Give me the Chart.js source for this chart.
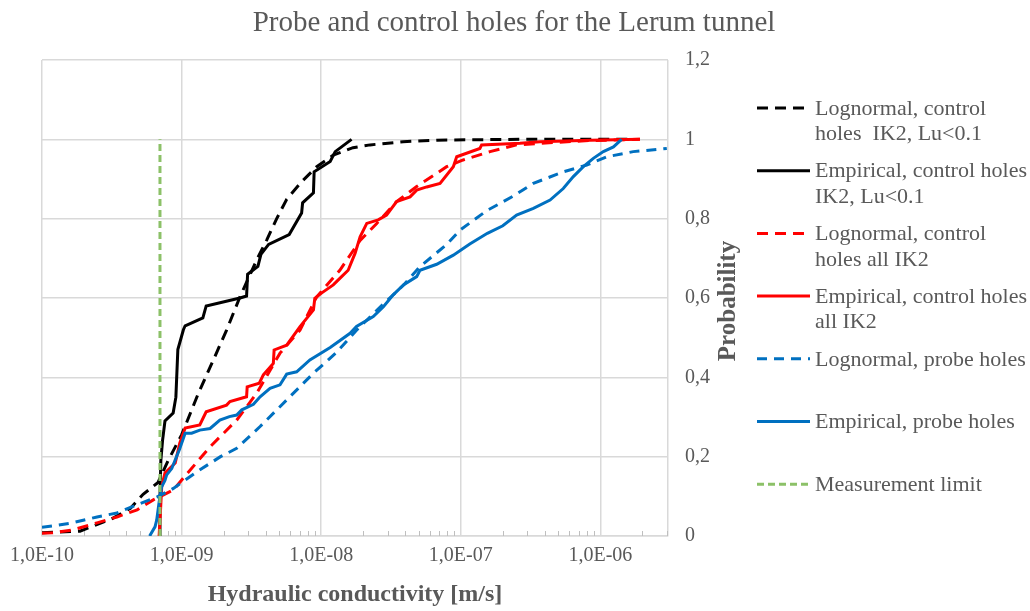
<!DOCTYPE html>
<html>
<head>
<meta charset="utf-8">
<script src="https://cdn.jsdelivr.net/npm/chart.js@4/dist/chart.umd.min.js"></script>
<style>
  body { margin: 0; background: #fff; }
  #wrap { width: 1030px; height: 611px; }
</style>
</head>
<body>
<div id="wrap"><canvas id="myChart" width="1030" height="611"></canvas></div>
<script>
// values (K in m/s, P = probability)
const lognCtrlLuK = [1.0e-10, 1.87e-10, 3.23e-10, 4.3e-10, 5.3e-10, 6.78e-10, 8.0e-10, 1.0e-9, 1.32e-9, 1.69e-9, 2.1e-9, 2.62e-9, 3.45e-9, 4.07e-9, 4.8e-9, 5.66e-9, 7.24e-9, 9.29e-9, 1.22e-8, 1.69e-8, 2.24e-8, 3.86e-8, 6.72e-8, 2.66e-7, 1.7e-6];
const lognCtrlLuP = [0.008, 0.012, 0.045, 0.07, 0.105, 0.135, 0.19, 0.255, 0.36, 0.444, 0.519, 0.603, 0.696, 0.746, 0.8, 0.849, 0.893, 0.931, 0.96, 0.979, 0.986, 0.994, 0.998, 1.0, 1.0];

const empCtrlLuK = [6.9e-10, 7.0e-10, 7.1e-10, 7.3e-10, 7.6e-10, 8.7e-10, 9.1e-10, 9.4e-10, 1.03e-9, 1.06e-9, 1.42e-9, 1.5e-9, 2.62e-9, 2.92e-9, 2.97e-9, 3.52e-9, 3.7e-9, 4.2e-9, 5.9e-9, 7.24e-9, 7.36e-9, 8.8e-9, 8.9e-9, 1.16e-8, 1.26e-8, 1.65e-8];
const empCtrlLuP = [0, 0.10, 0.19, 0.24, 0.29, 0.31, 0.35, 0.47, 0.52, 0.53, 0.55, 0.58, 0.60, 0.605, 0.66, 0.68, 0.71, 0.735, 0.76, 0.814, 0.84, 0.865, 0.918, 0.944, 0.969, 1.0];

const lognCtrlAllK = [1.0e-10, 1.18e-10, 1.64e-10, 2.48e-10, 3.44e-10, 4.8e-10, 6.27e-10, 8.73e-10, 1.1e-9, 1.6e-9, 2.48e-9, 3.45e-9, 5.07e-9, 7.05e-9, 9.29e-9, 1.36e-8, 1.9e-8, 2.5e-8, 3.47e-8, 4.83e-8, 7.92e-8, 1.04e-7, 1.62e-7, 2.51e-7, 3.69e-7, 8.43e-7, 1.92e-6];
const lognCtrlAllP = [0.007, 0.008, 0.015, 0.033, 0.048, 0.066, 0.091, 0.116, 0.158, 0.225, 0.292, 0.36, 0.461, 0.519, 0.603, 0.67, 0.745, 0.788, 0.843, 0.881, 0.931, 0.948, 0.969, 0.986, 0.99, 0.997, 1.0];

const empCtrlAllK = [6.9e-10, 7.1e-10, 7.2e-10, 7.6e-10, 9.0e-10, 9.7e-10, 1.06e-9, 1.35e-9, 1.5e-9, 2.1e-9, 2.22e-9, 2.92e-9, 2.95e-9, 3.6e-9, 3.85e-9, 4.54e-9, 4.6e-9, 5.66e-9, 7.05e-9, 8.8e-9, 9.0e-9, 1.01e-8, 1.22e-8, 1.4e-8, 1.56e-8, 1.75e-8, 1.9e-8, 2.12e-8, 2.56e-8, 2.94e-8, 3.47e-8, 4.33e-8, 4.83e-8, 5.7e-8, 7.1e-8, 8.84e-8, 9.35e-8, 1.37e-7, 1.41e-7, 2.66e-7, 3.69e-7, 8.43e-7, 1.92e-6];
const empCtrlAllP = [0, 0.08, 0.124, 0.159, 0.184, 0.234, 0.272, 0.28, 0.313, 0.33, 0.339, 0.351, 0.376, 0.385, 0.406, 0.435, 0.469, 0.481, 0.528, 0.57, 0.599, 0.613, 0.633, 0.654, 0.67, 0.713, 0.754, 0.788, 0.797, 0.809, 0.843, 0.855, 0.872, 0.88, 0.889, 0.931, 0.956, 0.977, 0.986, 0.99, 0.994, 0.998, 1.0];

const lognProbeK = [1.0e-10, 1.18e-10, 1.64e-10, 2.48e-10, 3.44e-10, 4.8e-10, 6.64e-10, 8.73e-10, 1.3e-9, 1.9e-9, 2.48e-9, 3.65e-9, 5.66e-9, 8.77e-9, 1.29e-8, 1.79e-8, 2.79e-8, 3.88e-8, 5.1e-8, 7.92e-8, 9.86e-8, 1.53e-7, 2.38e-7, 3.31e-7, 5.42e-7, 7.97e-7, 1.11e-6, 1.72e-6, 2.99e-6];
const lognProbeP = [0.022, 0.025, 0.033, 0.048, 0.058, 0.079, 0.098, 0.12, 0.163, 0.2, 0.221, 0.276, 0.343, 0.41, 0.463, 0.519, 0.585, 0.632, 0.679, 0.735, 0.771, 0.82, 0.857, 0.889, 0.918, 0.935, 0.956, 0.969, 0.977];

const empProbeK = [5.9e-10, 6.45e-10, 6.63e-10, 6.9e-10, 7.2e-10, 7.6e-10, 7.82e-10, 8.5e-10, 9.2e-10, 9.7e-10, 1.06e-9, 1.18e-9, 1.35e-9, 1.6e-9, 1.88e-9, 2.2e-9, 2.48e-9, 2.7e-9, 3.27e-9, 3.65e-9, 4.3e-9, 5.07e-9, 5.66e-9, 6.67e-9, 8.3e-9, 1.16e-8, 1.61e-8, 1.79e-8, 2.36e-8, 2.79e-8, 3.28e-8, 3.88e-8, 4.83e-8, 5.1e-8, 6.72e-8, 8.84e-8, 1.16e-7, 1.55e-7, 2.0e-7, 2.51e-7, 3.31e-7, 4.36e-7, 5.42e-7, 6.4e-7, 7.55e-7, 8.9e-7, 1.05e-6, 1.24e-6, 1.42e-6];
const empProbeP = [0, 0.023, 0.04, 0.085, 0.124, 0.14, 0.154, 0.17, 0.2, 0.22, 0.259, 0.259, 0.267, 0.271, 0.292, 0.301, 0.305, 0.318, 0.332, 0.351, 0.372, 0.381, 0.408, 0.414, 0.444, 0.475, 0.511, 0.528, 0.553, 0.578, 0.608, 0.633, 0.654, 0.67, 0.685, 0.708, 0.736, 0.763, 0.782, 0.809, 0.826, 0.847, 0.876, 0.906, 0.931, 0.952, 0.969, 0.981, 1.0];

const limitK = [7.0e-10, 7.0e-10];
const limitP = [0, 1];

const xMin = 1e-10;
const xMax = 3.05e-6;
const xDecades = [1e-10, 1e-9, 1e-8, 1e-7, 1e-6];
const xTickLabels = ["1,0E-10", "1,0E-09", "1,0E-08", "1,0E-07", "1,0E-06"];
const yTickLabels = ["0", "0,2", "0,4", "0,6", "0,8", "1", "1,2"];

const textColor = "#595959";
const gridColor = "#d9d9d9";
const serif = "'Liberation Serif', 'Times New Roman', serif";

function pts(xs, ys) {
  return xs.map((x, i) => ({ x: x, y: ys[i] }));
}

function decadeIndex(v) {
  return xDecades.findIndex((d) => Math.abs(v / d - 1) < 1e-6);
}

const series = [
  { label: ["Lognormal, control", "holes  IK2, Lu<0.1"], data: pts(lognCtrlLuK, lognCtrlLuP), color: "#000000", dash: [11, 7] },
  { label: ["Empirical, control holes", "IK2, Lu<0.1"], data: pts(empCtrlLuK, empCtrlLuP), color: "#000000", dash: [] },
  { label: ["Lognormal, control", "holes all IK2"], data: pts(lognCtrlAllK, lognCtrlAllP), color: "#ff0000", dash: [11, 7] },
  { label: ["Empirical, control holes", "all IK2"], data: pts(empCtrlAllK, empCtrlAllP), color: "#ff0000", dash: [] },
  { label: ["Lognormal, probe holes"], data: pts(lognProbeK, lognProbeP), color: "#0070c0", dash: [10, 7] },
  { label: ["Empirical, probe holes"], data: pts(empProbeK, empProbeP), color: "#0070c0", dash: [] },
  { label: ["Measurement limit"], data: pts(limitK, limitP), color: "#8cc168", dash: [7, 4] },
];

// title, side legend (two-line labels like Excel) and y axis title
const sideLegend = {
  id: "sideLegend",
  afterDraw(chart) {
    const ctx = chart.ctx;
    const x0 = 757, x1 = 810, tx = 815, y0 = 108, step = 62.7, lh = 25.5;
    ctx.save();
    ctx.fillStyle = textColor;
    ctx.textBaseline = "middle";

    ctx.textAlign = "center";
    ctx.font = "29px " + serif;
    ctx.fillText("Probe and control holes for the Lerum tunnel", 514, 23);

    ctx.textAlign = "left";
    ctx.font = "22px " + serif;
    chart.data.datasets.forEach((ds, i) => {
      const y = y0 + i * step;
      ctx.beginPath();
      ctx.strokeStyle = ds.borderColor;
      ctx.lineWidth = ds.borderWidth;
      ctx.setLineDash(ds.borderDash || []);
      ctx.moveTo(x0, y);
      ctx.lineTo(x1, y);
      ctx.stroke();
      ds.label.forEach((line, j) => ctx.fillText(line, tx, y + 1 + j * lh));
    });

    const a = chart.chartArea;
    ctx.translate(729, (a.top + a.bottom) / 2 + 3);
    ctx.rotate(-Math.PI / 2);
    ctx.textAlign = "center";
    ctx.font = "bold 25px " + serif;
    ctx.fillText("Probability", 0, 0);
    ctx.restore();
  },
};

// small minor tick marks inside the plot along the x axis
const minorTicks = {
  id: "minorTicks",
  beforeDatasetsDraw(chart) {
    const sx = chart.scales.x;
    const bottom = chart.chartArea.bottom;
    const ctx = chart.ctx;
    ctx.save();
    ctx.strokeStyle = "#bfbfbf";
    ctx.lineWidth = 1;
    sx.ticks.forEach((t) => {
      if (decadeIndex(t.value) >= 0 || t.value >= xMax * 0.999) return;
      const px = Math.round(sx.getPixelForValue(t.value)) + 0.5;
      ctx.beginPath();
      ctx.moveTo(px, bottom);
      ctx.lineTo(px, bottom - 5);
      ctx.stroke();
    });
    ctx.restore();
  },
};

const cfg = {
  type: "line",
  data: {
    datasets: series.map((s, i) => ({
      label: s.label,
      data: s.data,
      borderColor: s.color,
      backgroundColor: s.color,
      borderDash: s.dash,
      borderWidth: 3,
      pointRadius: 0,
      tension: 0,
      fill: false,
      order: 7 - i,
    })),
  },
  options: {
    responsive: false,
    animation: false,
    devicePixelRatio: 1,
    layout: { padding: { left: 42, right: 0, top: 60, bottom: 0 } },
    plugins: {
      legend: { display: false },
      tooltip: { enabled: false },
      title: { display: false },
    },
    scales: {
      x: {
        type: "logarithmic",
        position: "bottom",
        min: xMin,
        max: xMax,
        afterBuildTicks(scale) {
          scale.ticks = scale.ticks.filter((t) => {
            if (t.value >= xMax * 0.999) return true;
            const m = t.value / Math.pow(10, Math.floor(Math.log10(t.value) + 1e-9));
            return Math.abs(m - Math.round(m)) < 1e-6;
          });
        },
        afterFit(scale) {
          scale.height = 75;
        },
        ticks: {
          autoSkip: false,
          maxRotation: 0,
          padding: 8,
          color: textColor,
          font: { family: serif, size: 20 },
          callback(value) {
            const k = decadeIndex(value);
            return k >= 0 ? xTickLabels[k] : "";
          },
        },
        grid: {
          drawTicks: false,
          lineWidth: 1.5,
          color(c) {
            if (!c.tick) return "rgba(0,0,0,0)";
            return decadeIndex(c.tick.value) >= 0 || c.tick.value >= xMax * 0.999 ? gridColor : "rgba(0,0,0,0)";
          },
        },
        border: { color: gridColor, width: 1.5 },
        title: {
          display: true,
          text: "Hydraulic conductivity [m/s]",
          color: textColor,
          font: { family: serif, size: 24, weight: "bold", lineHeight: 1.2 },
          padding: { top: 0, bottom: 2 },
        },
      },
      y: {
        type: "linear",
        position: "right",
        min: 0,
        max: 1.2,
        afterFit(scale) {
          scale.width = 362;
        },
        ticks: {
          stepSize: 0.2,
          padding: 17,
          color: textColor,
          font: { family: serif, size: 20 },
          callback(value, index) {
            return yTickLabels[index];
          },
        },
        grid: { drawTicks: false, color: gridColor, lineWidth: 1.5 },
        border: { display: false },
        title: { display: false },
      },
    },
  },
  plugins: [minorTicks, sideLegend],
};

new Chart(document.getElementById("myChart"), cfg);
</script>
</body>
</html>
